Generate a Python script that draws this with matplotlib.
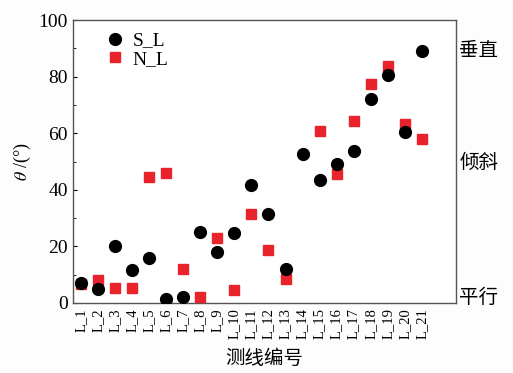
import numpy as np
import matplotlib.pyplot as plt
from matplotlib.ticker import MultipleLocator

plt.rcParams['font.family'] = ['Liberation Serif', 'Noto Sans CJK SC']
plt.rcParams['mathtext.fontset'] = 'stix'

lines = ['L_%d' % i for i in range(1, 22)]
s_l = [7.0, 5.0, 20.0, 11.7, 16.0, 1.4, 2.2, 25.0, 18.0, 24.6, 41.7,
       31.4, 12.1, 52.8, 43.4, 49.0, 53.7, 72.1, 80.6, 60.5, 89.2]
# no visible N_L mark for L_14
n_l = [6.7, 8.1, 5.4, 5.4, 44.6, 46.0, 12.0, 2.0, 22.9, 4.4, 31.3,
       18.6, 8.5, np.nan, 60.8, 45.6, 64.2, 77.3, 83.9, 63.1, 57.9]
side_labels = ['垂直', '倾斜', '平行']
side_values = [89.4, 49.5, 2.0]

x = np.arange(1, len(lines) + 1)

fig = plt.figure(figsize=(5.13, 3.73), dpi=100)
fig.patch.set_facecolor('#fdfdfd')
ax = fig.add_axes([0.142, 0.188, 0.747, 0.758])
ax.set_facecolor('white')

ax.plot(x, n_l, 's', color='#e8232b', markersize=7.5, label='N_L', zorder=3)
ax.plot(x, s_l, 'o', color='black', markersize=8.5, label='S_L', zorder=4)

ax.set_xlim(0.53, 23)
ax.set_ylim(0, 100)
ax.set_xticks(x)
ax.set_xticklabels(lines, rotation=90, fontsize=10.5)
ax.tick_params(axis='x', length=0, pad=4)
ax.yaxis.set_major_locator(MultipleLocator(20))
ax.yaxis.set_minor_locator(MultipleLocator(10))
ax.tick_params(axis='y', which='major', direction='in', length=3, labelsize=14)
ax.tick_params(axis='y', which='minor', direction='in', length=2)

for sp in ax.spines.values():
    sp.set_color('#555555')
    sp.set_linewidth(1.0)

ax.set_xlabel('测线编号', fontsize=14, family='Noto Sans CJK SC', labelpad=6)
ax.set_ylabel(r'$\theta$ /(°)', fontsize=13, labelpad=4)

for lab, v in zip(side_labels, side_values):
    ax.text(23.2, v, lab, fontsize=14, family='Noto Sans CJK SC',
            va='center', ha='left')

h, l = ax.get_legend_handles_labels()
ax.legend(h[::-1], l[::-1], loc='upper left', bbox_to_anchor=(0.05, 1.0),
          frameon=False, fontsize=14, handletextpad=0.3, labelspacing=0.05,
          borderaxespad=0.2, handlelength=1.2)

fig.savefig('out.png', dpi=100)
